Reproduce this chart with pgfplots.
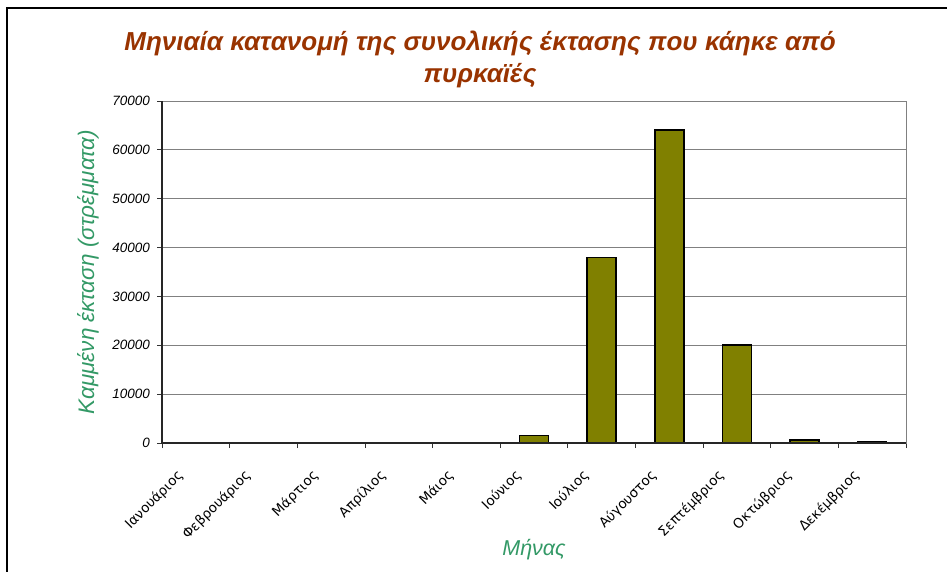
\documentclass[border=0pt]{standalone}
\usepackage{pgfplots}
\pgfplotsset{compat=1.18}
\usepackage{fontspec}
\setmainfont{Liberation Sans}
\newfontfamily\ticksans{DejaVu Sans}
\definecolor{titlecol}{HTML}{993300}
\definecolor{labcol}{HTML}{339966}
\definecolor{barcol}{HTML}{808000}
\begin{document}
\begin{tikzpicture}
\useasboundingbox (0,0) rectangle (947pt,-572pt);
\draw[line width=2pt, black] (7pt,-572pt) -- (7pt,-8pt) -- (947pt,-8pt);
\node[font=\bfseries\itshape\fontsize{26}{32}\selectfont, text=titlecol, align=center] at (480pt,-59pt)
  {Μηνιαία κατανομή της συνολικής έκτασης που κάηκε από\\πυρκαϊές};
\begin{axis}[
  at={(162pt,-443pt)}, anchor=south west,
  scale only axis, width=744pt, height=342pt,
  xmin=-0.5, xmax=10.5, ymin=0, ymax=70000,
  ytick={0,10000,...,70000},
  xtick={0,...,10},
  xticklabels={Ιανουάριος,Φεβρουάριος,Μάρτιος,Απρίλιος,Μάιος,Ιούνιος,Ιούλιος,Αύγουστος,Σεπτέμβριος,Οκτώβριος,Δεκέμβριος},
  major x tick style={draw=none},
  minor xtick={-0.5,0.5,...,10.5},
  minor tick length=5pt,
  major tick length=5pt,
  tick align=outside, tick pos=left,
  tick style={black!80, line width=0.8pt},
  ymajorgrids, grid style={gray, line width=1pt},
  axis line style={gray, line width=1pt},
  /pgf/number format/assume math mode=true,
  /pgf/number format/1000 sep={},
  scaled y ticks=false,
  yticklabel style={font=\itshape\fontsize{13.5}{14}\selectfont, inner sep=3pt, xshift=-4pt},
  xticklabel style={font=\ticksans\fontsize{13.5}{15}\selectfont, xshift=-20pt, yshift=-19pt, rotate=45, anchor=north east, inner sep=1pt},
  ylabel={Καμμένη έκταση (στρέμματα)},
  ylabel style={font=\itshape\fontsize{22.5}{24}\selectfont, text=labcol, at={(axis description cs:-0.0995,0.5)}, anchor=center, rotate=0},
  xlabel={Μήνας},
  xlabel style={font=\itshape\fontsize{21.5}{23}\selectfont, text=labcol, at={(axis description cs:0.5,0)}, anchor=center, yshift=-107pt},
  clip=false,
]
\addplot[ybar, bar width=29pt, fill=barcol, draw=black, line width=1.6pt]
  coordinates {(0,0) (1,0) (2,0) (3,0) (4,0) (5,1500) (6,38000) (7,64100) (8,20000) (9,600) (10,250)};
\draw[black!85, line width=1.4pt] (rel axis cs:0,1) -- (rel axis cs:0,0) -- (rel axis cs:1,0);
\end{axis}
\end{tikzpicture}
\end{document}
